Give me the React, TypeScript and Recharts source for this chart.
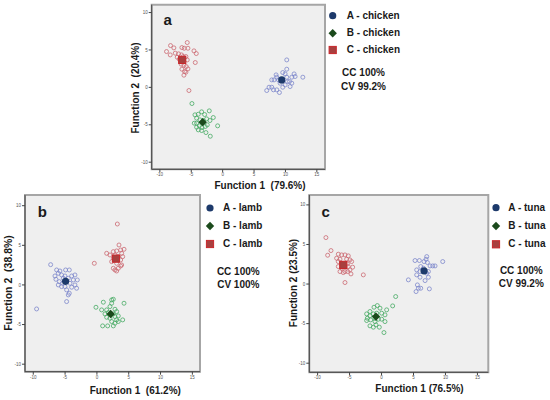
import { ReactElement } from 'react'
import { ScatterChart, Scatter, XAxis, YAxis, ReferenceArea } from 'recharts'

// discriminant scores: [function 1, function 2]
const chickenA: Array<[number, number]> = [
    [7.02, -0.42], [7.39, 0.02], [7.82, 0.02], [8.09, -0.33], [8.62, -0.33], [9.04, -0.69], [9.57, 0.02],
    [9.95, 0.33], [10.32, 0.78], [10.64, 0.78], [11.01, 1.36], [11.38, 1.8], [11.54, 1.45], [12.77, 1.36],
    [10.21, 3.67], [10.21, 2.43], [9.57, 1.98], [8.51, 1.67], [8.88, 1.0], [8.19, 1.0], [7.82, 1.0],
    [8.62, 1.36], [9.95, 1.8], [10.74, 0.11], [11.01, 0.56], [10.21, 1.36], [9.15, 0.56],
]
const chickenB: Array<[number, number]> = [
    [-4.89, -2.16], [-4.41, -3.67], [-3.88, -3.59], [-3.35, -3.27], [-2.87, -3.63], [-2.13, -3.14],
    [-1.49, -4.03], [-0.8, -5.14], [-4.15, -4.12], [-3.62, -4.34], [-3.09, -4.43], [-2.55, -4.21],
    [-2.02, -4.43], [-4.15, -4.79], [-3.72, -5.14], [-3.3, -5.37], [-2.77, -5.23], [-2.45, -5.01],
    [-3.88, -5.68], [-3.35, -5.77], [-2.66, -6.04], [-1.97, -6.53], [-4.15, -5.32], [-4.52, -4.79],
]
const chickenC: Array<[number, number]> = [
    [-8.94, 4.79], [-8.3, 5.59], [-7.77, 5.28], [-8.35, 4.34], [-5.64, 5.99], [-6.49, 5.32], [-6.12, 5.23],
    [-5.53, 5.23], [-4.57, 4.88], [-4.2, 4.52], [-7.55, 4.57], [-7.02, 4.48], [-7.23, 4.03], [-6.91, 3.76],
    [-6.54, 4.34], [-6.28, 4.12], [-5.85, 4.12], [-5.64, 3.67], [-6.6, 3.1], [-6.17, 2.96], [-5.8, 2.78],
    [-5.53, 2.47], [-6.49, 2.43], [-6.06, 2.12], [-5.85, 2.03], [-6.17, 1.63], [-4.36, 3.32], [-5.37, -0.42],
]
const chickenCentroids: Array<[number, number]> = [[9.41, 1.0], [-3.19, -4.65], [-6.44, 3.67]]

const lambA: Array<[number, number]> = [
    [-7.27, 2.56], [-9.48, -3.03], [-6.33, 1.89], [-5.81, 1.76], [-4.92, 1.89], [-4.34, 1.89], [-6.07, 1.47],
    [-5.55, 1.26], [-6.59, 1.13], [-5.02, 1.13], [-3.97, 1.13], [-3.45, 1.26], [-5.28, 0.84], [-4.5, 0.84],
    [-3.71, 0.63], [-3.08, 0.63], [-6.44, 0.71], [-5.91, 0.42], [-5.39, 0.21], [-4.23, 0.21], [-3.45, 0.0],
    [-6.07, 0.0], [-5.55, -0.21], [-5.02, -0.21], [-3.97, -0.29], [-3.19, -0.42], [-4.76, -0.63],
    [-4.34, -1.05], [-4.5, -1.26], [-4.76, -2.1],
]
const lambB: Array<[number, number]> = [
    [-0.15, -2.82], [1.01, -2.18], [2.32, -1.89], [2.58, -1.81], [4.26, -2.31], [0.74, -3.15], [1.53, -3.15],
    [2.05, -2.73], [2.84, -3.07], [3.1, -3.36], [1.27, -3.66], [1.79, -3.49], [2.58, -3.66], [3.36, -3.91],
    [2.84, -3.99], [1.53, -4.08], [2.05, -4.2], [3.1, -4.41], [4.05, -4.41], [2.32, -4.62], [2.84, -4.83],
    [0.9, -5.17], [1.69, -5.17], [2.58, -5.17], [3.36, -4.62], [2.32, -2.31],
]
const lambC: Array<[number, number]> = [
    [3.21, 7.69], [-0.41, 2.73], [1.53, 3.99], [3.47, 5.04], [2.58, 4.2], [3.1, 4.29], [3.73, 4.41],
    [4.26, 4.5], [3.89, 3.99], [2.05, 3.78], [2.84, 3.78], [3.36, 3.57], [4.05, 3.57], [2.58, 3.36],
    [3.73, 3.15], [2.32, 2.94], [3.1, 2.73], [3.89, 2.52], [2.58, 2.1], [3.36, 2.1], [2.84, 1.89],
    [3.1, 1.76], [3.73, 2.39],
]
const lambCentroids: Array<[number, number]> = [[-4.92, 0.46], [2.16, -3.66], [3.0, 3.32]]

const tunaA: Array<[number, number]> = [
    [5.24, 2.97], [5.92, 2.97], [7.07, 3.47], [6.96, 3.14], [6.65, 2.84], [7.17, 2.72], [7.59, 2.29],
    [8.01, 2.29], [8.37, 2.29], [9.57, 2.84], [6.13, 2.21], [6.55, 2.0], [5.5, 1.79], [6.02, 1.58],
    [6.81, 1.58], [7.33, 1.58], [5.5, 1.16], [6.02, 0.86], [7.33, 0.86], [7.07, 1.37], [4.2, 0.53],
    [5.61, -0.11], [5.76, -0.53], [6.13, -0.53], [5.4, -0.95], [7.48, -0.61], [6.81, 0.44],
]
const tunaB: Array<[number, number]> = [
    [2.21, -1.58], [1.74, -2.76], [0.8, -3.26], [-0.66, -2.72], [-0.24, -3.05], [-1.18, -2.93],
    [-1.81, -3.47], [-2.33, -3.77], [-1.81, -4.02], [-1.28, -3.77], [-0.76, -3.68], [0.02, -3.68],
    [0.54, -3.89], [-2.22, -4.32], [-1.7, -4.53], [-1.02, -4.32], [-0.5, -4.44], [0.02, -4.44],
    [0.54, -4.74], [-1.81, -5.28], [-1.28, -5.45], [-0.87, -5.16], [-0.35, -5.45], [0.38, -6.13],
    [-1.02, -4.74], [-2.33, -4.61],
]
const tunaC: Array<[number, number]> = [
    [-8.7, 5.87], [-7.91, 4.23], [-8.43, 3.64], [-6.76, 3.77], [-6.24, 3.68], [-5.72, 3.68], [-5.2, 3.56],
    [-7.03, 3.26], [-6.5, 3.14], [-5.46, 3.14], [-4.94, 3.05], [-4.68, 2.84], [-6.76, 2.84], [-6.24, 2.63],
    [-5.35, 2.55], [-4.52, 2.13], [-6.76, 2.21], [-6.24, 2.0], [-5.2, 2.21], [-4.94, 1.79], [-5.72, 1.58],
    [-6.5, 1.58], [-5.98, 1.45], [-4.78, 1.28], [-5.3, 1.58], [-2.85, 1.16], [-5.72, 0.19],
]
const tunaCentroids: Array<[number, number]> = [[6.65, 1.66], [-0.87, -4.11], [-5.98, 2.42]]

const X_TICKS = [-10, -5, 0, 5, 10, 15]
const Y_TICKS = [-10, -5, 0, 5, 10]

const RING_COLORS = ['#7d88cc', '#47ab64', '#cc6a72']
const FONT = '"Liberation Sans", Arial, sans-serif'

const toPoints = (pairs: Array<[number, number]>) => pairs.map(([x, y]) => ({ x, y }))

const ring = (color: string) => (props: any) => (
    <circle cx={props.cx} cy={props.cy} r={2} fill="none" stroke={color} strokeWidth={0.8} />
)

const Dot = ({ cx, cy }: { cx: number; cy: number }) => <circle cx={cx} cy={cy} r={3.6} fill="#1d3a6b" />
const Diamond = ({ cx, cy }: { cx: number; cy: number }) => (
    <polygon points={`${cx},${cy - 4.2} ${cx + 4.2},${cy} ${cx},${cy + 4.2} ${cx - 4.2},${cy}`} fill="#1b4a1c" />
)
const Square = ({ cx, cy }: { cx: number; cy: number }) => (
    <rect x={cx - 3.6} y={cy - 3.6} width={7.2} height={7.2} fill="#a8403f" stroke="#c9262a" strokeWidth={1} />
)
const CENTROID_SHAPES = [Dot, Diamond, Square]

interface PanelProps {
    left: number
    top: number
    width: number
    height: number
    margin: { top: number; right: number; bottom: number; left: number }
    xDomain: [number, number]
    yDomain: [number, number]
    groups: Array<Array<[number, number]>>
    centroids: Array<[number, number]>
}

const Panel = ({ left, top, width, height, margin, xDomain, yDomain, groups, centroids }: PanelProps): ReactElement => {
    const tick = { fontSize: 4.5, fill: '#555', fontFamily: FONT }
    return (
        <div style={{ position: 'absolute', left, top }}>
            <ScatterChart width={width} height={height} margin={margin}>
                <XAxis
                    type="number"
                    dataKey="x"
                    domain={xDomain}
                    ticks={X_TICKS}
                    allowDataOverflow
                    height={10}
                    tickSize={3}
                    tickMargin={1}
                    tick={tick}
                    stroke="#444"
                />
                <YAxis
                    type="number"
                    dataKey="y"
                    domain={yDomain}
                    ticks={Y_TICKS}
                    allowDataOverflow
                    width={12}
                    tickSize={3}
                    tickMargin={1}
                    tick={tick}
                    stroke="#444"
                />
                <ReferenceArea
                    x1={xDomain[0]}
                    x2={xDomain[1]}
                    y1={yDomain[0]}
                    y2={yDomain[1]}
                    fill="#efefef"
                    fillOpacity={1}
                    stroke="#a6a6a6"
                    strokeWidth={2}
                />
                {groups.map((g, i) => (
                    <Scatter key={`g-${i}`} data={toPoints(g)} shape={ring(RING_COLORS[i])} isAnimationActive={false} />
                ))}
                {centroids.map((c, i) => {
                    const Shape = CENTROID_SHAPES[i]
                    return (
                        <Scatter
                            key={`c-${i}`}
                            data={toPoints([c])}
                            shape={(p: any) => <Shape cx={p.cx} cy={p.cy} />}
                            isAnimationActive={false}
                        />
                    )
                })}
            </ScatterChart>
        </div>
    )
}

const Text = ({ x, y, size = 10, rotate = false, children }: { x: number; y: number; size?: number; rotate?: boolean; children: string }) => (
    <div
        style={{
            position: 'absolute',
            left: x,
            top: y,
            transform: `translate(-50%, -50%)${rotate ? ' rotate(-90deg)' : ''}`,
            fontFamily: FONT,
            fontWeight: 'bold',
            fontSize: size,
            color: '#1a1a1a',
            whiteSpace: 'pre',
            lineHeight: 1,
        }}
    >
        {children}
    </div>
)

const Legend = ({ markerX, textX, rows, names }: { markerX: number; textX: number; rows: number[]; names: string[] }) => (
    <>
        <svg style={{ position: 'absolute', left: 0, top: 0, overflow: 'visible' }} width={1} height={1}>
            <Dot cx={markerX} cy={rows[0]} />
            <Diamond cx={markerX} cy={rows[1]} />
            <Square cx={markerX} cy={rows[2]} />
        </svg>
        {names.map((n, i) => (
            <div
                key={n}
                style={{
                    position: 'absolute',
                    left: textX,
                    top: rows[i],
                    transform: 'translateY(-50%)',
                    fontFamily: FONT,
                    fontWeight: 'bold',
                    fontSize: 10,
                    color: '#1a1a1a',
                    whiteSpace: 'pre',
                    lineHeight: 1,
                }}
            >
                {n}
            </div>
        ))}
    </>
)

export default function App(): ReactElement {
    return (
        <div style={{ position: 'absolute', left: 0, top: 0, width: 550, height: 400, background: '#fff', overflow: 'hidden' }}>
            <Panel
                left={110}
                top={0}
                width={230}
                height={185}
                margin={{ top: 4.7, right: 15, bottom: 5.7, left: 29.7 }}
                xDomain={[-11.3, 16.3]}
                yDomain={[-10.95, 11.05]}
                groups={[chickenA, chickenB, chickenC]}
                centroids={chickenCentroids}
            />
            <Panel
                left={0}
                top={190}
                width={210}
                height={195}
                margin={{ top: 5, right: 10, bottom: 3.3, left: 13 }}
                xDomain={[-11.3, 16.2]}
                yDomain={[-10.95, 11.35]}
                groups={[lambA, lambB, lambC]}
                centroids={lambCentroids}
            />
            <Panel
                left={285}
                top={190}
                width={215}
                height={195}
                margin={{ top: 5, right: 11.7, bottom: 2.7, left: 12.3 }}
                xDomain={[-11.3, 16.7]}
                yDomain={[-11.15, 11.25]}
                groups={[tunaA, tunaB, tunaC]}
                centroids={tunaCentroids}
            />

            <Text x={167.7} y={19} size={15}>a</Text>
            <Text x={42.3} y={211} size={15}>b</Text>
            <Text x={325.7} y={210.7} size={15}>c</Text>

            <Text x={260} y={186}>{'Function 1  (79.6%)'}</Text>
            <Text x={135.7} y={88} rotate>{'Function 2  (20.4%)'}</Text>
            <Text x={135.3} y={391}>{'Function 1  (61.2%)'}</Text>
            <Text x={7.5} y={283} size={10.5} rotate>{'Function 2  (38.8%)'}</Text>
            <Text x={419.5} y={389.3}>{'Function 1 (76.5%)'}</Text>
            <Text x={294} y={283} rotate>{'Function 2 (23.5%)'}</Text>

            <Legend markerX={332.7} textX={346.7} rows={[15.7, 33.3, 50]} names={['A - chicken', 'B - chicken', 'C - chicken']} />
            <Legend markerX={210} textX={223} rows={[208, 226, 244]} names={['A - lamb', 'B - lamb', 'C - lamb']} />
            <Legend markerX={496} textX={508.3} rows={[207.7, 226, 244.3]} names={['A - tuna', 'B - tuna', 'C - tuna']} />

            <Text x={363.5} y={73.3}>CC 100%</Text>
            <Text x={363.5} y={87.3}>CV 99.2%</Text>
            <Text x={238.3} y={271.7}>CC 100%</Text>
            <Text x={238.3} y={285}>CV 100%</Text>
            <Text x={521.3} y={271}>CC 100%</Text>
            <Text x={521.3} y={284.3}>CV 99.2%</Text>
        </div>
    )
}
